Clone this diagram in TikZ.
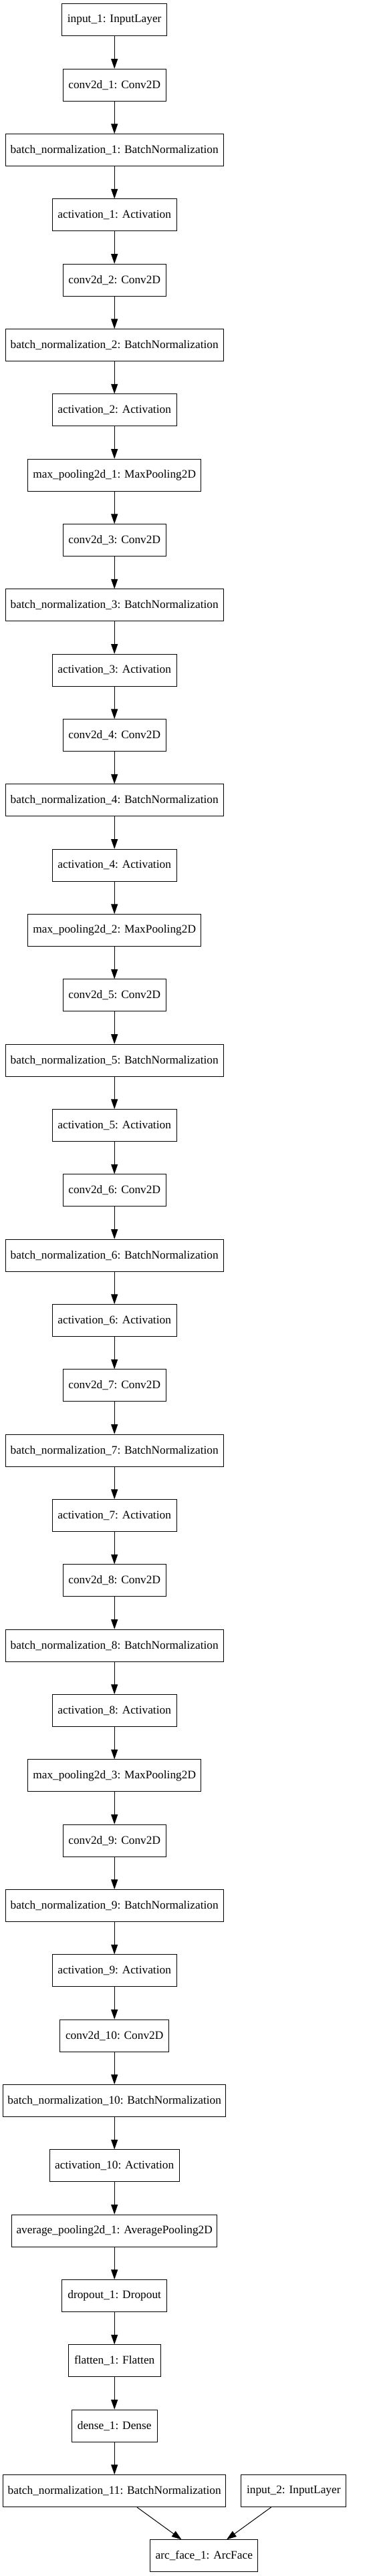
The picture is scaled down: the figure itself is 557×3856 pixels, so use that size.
\documentclass[tikz,border=0pt]{standalone}
\usepackage{fontspec}
\setmainfont{Liberation Serif}
\usetikzlibrary{arrows.meta}
\tikzset{
  layer/.style={draw=black, line width=0.75bp, minimum height=36bp, inner xsep=0pt, inner ysep=0pt,
    font=\fontsize{13bp}{15bp}\selectfont, anchor=center},
  conn/.style={line width=0.75bp, -{Triangle[length=11bp,width=7.5bp]}}
}
\begin{document}
\begin{tikzpicture}[x=0.75bp,y=-0.75bp]
\useasboundingbox (0,0) rectangle (557,3856);
\foreach \w/\t [count=\k from 0] in {
  156.7/input\_1: InputLayer,
  154/conv2d\_1: Conv2D,
  326/batch\_normalization\_1: BatchNormalization,
  185.7/activation\_1: Activation,
  154/conv2d\_2: Conv2D,
  326/batch\_normalization\_2: BatchNormalization,
  185.7/activation\_2: Activation,
  259.3/max\_pooling2d\_1: MaxPooling2D,
  154/conv2d\_3: Conv2D,
  326/batch\_normalization\_3: BatchNormalization,
  185.7/activation\_3: Activation,
  154/conv2d\_4: Conv2D,
  326/batch\_normalization\_4: BatchNormalization,
  185.7/activation\_4: Activation,
  259.3/max\_pooling2d\_2: MaxPooling2D,
  154/conv2d\_5: Conv2D,
  326/batch\_normalization\_5: BatchNormalization,
  185.7/activation\_5: Activation,
  154/conv2d\_6: Conv2D,
  326/batch\_normalization\_6: BatchNormalization,
  185.7/activation\_6: Activation,
  154/conv2d\_7: Conv2D,
  326/batch\_normalization\_7: BatchNormalization,
  185.7/activation\_7: Activation,
  154/conv2d\_8: Conv2D,
  326/batch\_normalization\_8: BatchNormalization,
  185.7/activation\_8: Activation,
  259.3/max\_pooling2d\_3: MaxPooling2D,
  154/conv2d\_9: Conv2D,
  326/batch\_normalization\_9: BatchNormalization,
  185.7/activation\_9: Activation,
  163/conv2d\_10: Conv2D,
  333.3/batch\_normalization\_10: BatchNormalization,
  194.3/activation\_10: Activation,
  307.3/average\_pooling2d\_1: AveragePooling2D,
  156.7/dropout\_1: Dropout,
  137.7/flatten\_1: Flatten,
  128/dense\_1: Dense,
  333.3/batch\_normalization\_11: BatchNormalization}
{
  \node[layer, minimum width=0.75bp*\w] (n\k) at (171.2, {30+97.33*\k}) {\t};
}
\node[layer, minimum width=0.75bp*156.7] (in2) at (439.3, {30+97.33*38}) {input\_2: InputLayer};
\node[layer, minimum width=0.75bp*161.3] (arc) at (305.3, {30+97.33*39}) {arc\_face\_1: ArcFace};
\foreach \k in {0,...,37} {
  \pgfmathtruncatemacro{\j}{\k+1}
  \draw[conn] (n\k) -- (n\j);
}
\draw[conn] (n38) -- (arc);
\draw[conn] (in2) -- (arc);
\end{tikzpicture}
\end{document}
